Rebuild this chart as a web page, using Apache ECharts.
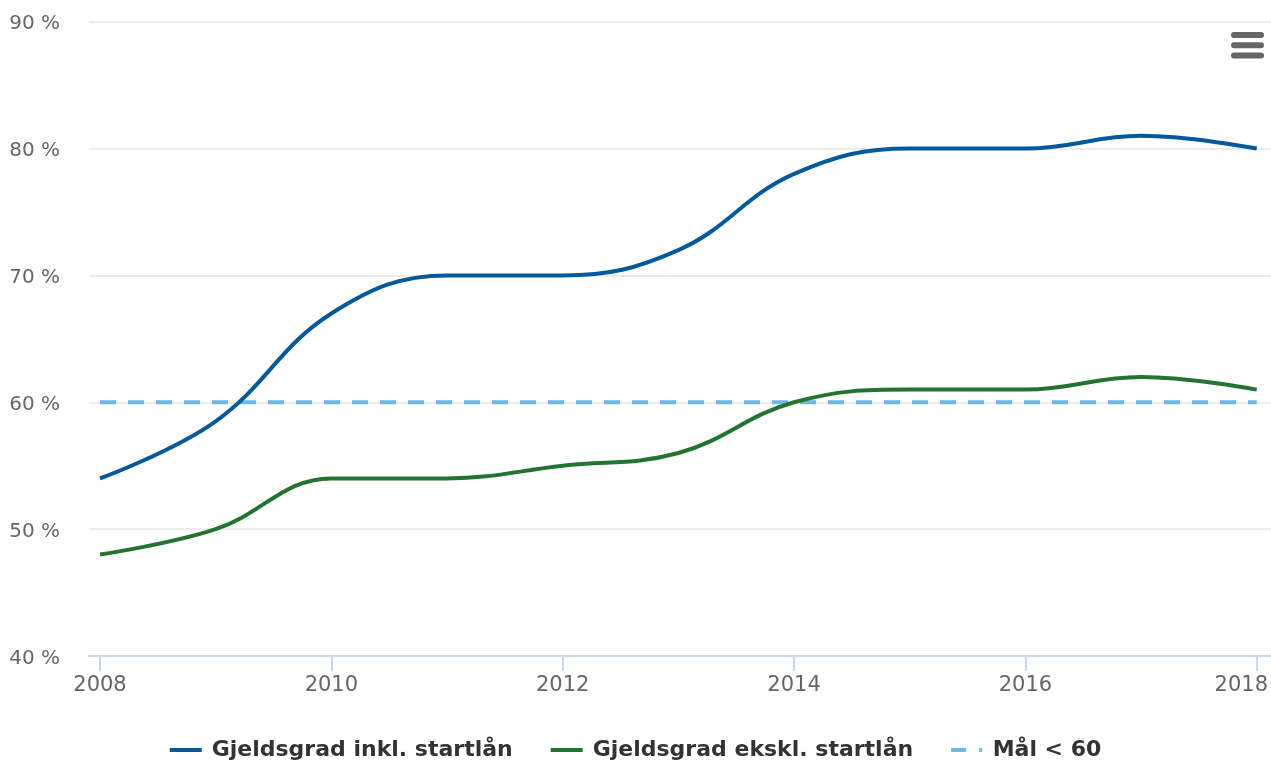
<!DOCTYPE html>
<html>
<head>
<meta charset="utf-8">
<script src="https://cdn.jsdelivr.net/npm/echarts@6/dist/echarts.min.js"></script>
<style>
  html, body { margin: 0; padding: 0; background: #ffffff; }
  #chart { width: 1271px; height: 762px; }
</style>
</head>
<body>
<div id="chart"></div>
<script>
// Debt ratio (gjeldsgrad) per year, in percent
const years = [2008, 2009, 2010, 2011, 2012, 2013, 2014, 2015, 2016, 2017, 2018];
const inklStartlan = [54, 58.5, 67, 70, 70, 72, 78, 80, 80, 81, 80];
const ekslStartlan = [48, 50, 54, 54, 55, 56, 60, 61, 61, 62, 61];
const malVerdi = [60, 60, 60, 60, 60, 60, 60, 60, 60, 60, 60];
const xTicks = [2008, 2010, 2012, 2014, 2016, 2018];
const seriesNames = ['Gjeldsgrad inkl. startlån', 'Gjeldsgrad ekskl. startlån', 'Mål < 60'];

const pairs = (vals) => years.map((y, i) => [y, vals[i]]);
const FONT = 'DejaVu Sans';

// legend keys: solid bar, and dash + dot for the target line
const SOLID_ICON = 'path://M0,0H32V4H0Z';
const DASH_ICON = 'path://M0,0H15V4H0Z M28,0H31V4H28Z';

const chart = echarts.init(document.getElementById('chart'), null, { renderer: 'canvas' });

chart.setOption({
  animation: false,
  backgroundColor: '#ffffff',
  textStyle: { fontFamily: FONT },
  grid: { left: 89, right: 0, top: 21.7, bottom: 106, containLabel: false },
  xAxis: {
    type: 'value',
    min: 2007.905,
    max: 2018.121,
    splitLine: { show: false },
    axisLine: { show: true, lineStyle: { color: '#ccd6eb', width: 2 } },
    axisTick: {
      show: true,
      customValues: xTicks,
      length: 15,
      lineStyle: { color: '#ccd6eb', width: 2 }
    },
    axisLabel: {
      customValues: xTicks,
      margin: 19,
      color: '#666666',
      fontSize: 21,
      fontFamily: FONT,
      formatter: (v) => (v === xTicks[xTicks.length - 1] ? '{last|' + v + '}' : String(v)),
      rich: {
        last: { color: '#666666', fontSize: 21, fontFamily: FONT, padding: [0, 31, 0, 0] }
      }
    }
  },
  yAxis: {
    type: 'value',
    min: 40,
    max: 90,
    interval: 10,
    axisLine: { show: false },
    axisTick: { show: false },
    splitLine: { show: true, lineStyle: { color: '#e6e6e6', width: 1.5 } },
    axisLabel: {
      margin: 29,
      color: '#666666',
      fontSize: 20,
      fontFamily: FONT,
      verticalAlign: 'top',
      lineHeight: 5,
      formatter: (v) => v + ' %'
    }
  },
  legend: {
    top: 734,
    left: 'center',
    itemGap: 38,
    itemWidth: 32,
    itemHeight: 4,
    textStyle: {
      color: '#333333',
      fontSize: 22,
      fontWeight: 'bold',
      fontFamily: FONT,
      padding: [0, 0, 0, 5]
    },
    data: [
      { name: seriesNames[0], icon: SOLID_ICON },
      { name: seriesNames[1], icon: SOLID_ICON },
      { name: seriesNames[2], icon: DASH_ICON }
    ]
  },
  series: [
    {
      name: seriesNames[0],
      type: 'line',
      data: pairs(inklStartlan),
      smooth: 0.4,
      symbol: 'none',
      lineStyle: { color: '#03599a', width: 4 },
      itemStyle: { color: '#03599a' },
      z: 3
    },
    {
      name: seriesNames[1],
      type: 'line',
      data: pairs(ekslStartlan),
      smooth: 0.4,
      symbol: 'none',
      lineStyle: { color: '#237331', width: 4 },
      itemStyle: { color: '#237331' },
      z: 3
    },
    {
      name: seriesNames[2],
      type: 'line',
      data: pairs(malVerdi),
      symbol: 'none',
      lineStyle: { color: '#6cb8e7', width: 4, type: [16, 12] },
      itemStyle: { color: '#6cb8e7' },
      z: 2
    }
  ],
  graphic: [
    {
      type: 'group',
      right: 7,
      top: 32,
      children: [
        { type: 'rect', shape: { x: 0, y: 0, width: 33, height: 6, r: 3 }, style: { fill: '#666666' } },
        { type: 'rect', shape: { x: 0, y: 10.3, width: 33, height: 6, r: 3 }, style: { fill: '#666666' } },
        { type: 'rect', shape: { x: 0, y: 20.5, width: 33, height: 6, r: 3 }, style: { fill: '#666666' } }
      ]
    }
  ]
});
</script>
</body>
</html>
